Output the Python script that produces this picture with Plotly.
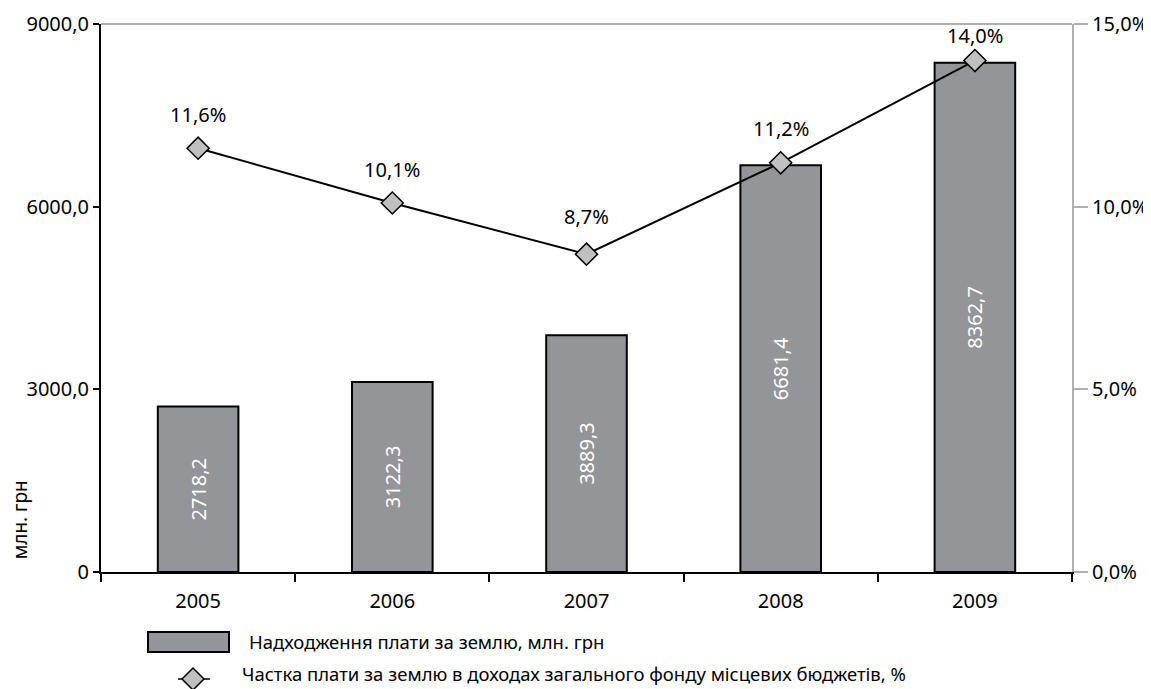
import plotly.graph_objects as go

years = ["2005", "2006", "2007", "2008", "2009"]
payments = [2718.2, 3122.3, 3889.3, 6681.4, 8362.7]   # млн. грн
share = [11.6, 10.1, 8.7, 11.2, 14.0]                # %

left_ticks = [0, 3000, 6000, 9000]
left_ticktext = ["0", "3000,0", "6000,0", "9000,0"]
right_ticks = [0, 5, 10, 15]
right_ticktext = ["0,0%", "5,0%", "10,0%", "15,0%"]

bar_name = "Надходження плати за землю, млн. грн"
line_name = "Частка плати за землю в доходах загального фонду місцевих бюджетів, %"
ytitle = "млн. грн"

FONT = "Noto Sans"
BAR_FILL = "#939598"
MARK_FILL = "#c0c0c0"
GRAY = "#b0b0b0"
LABEL_SHIFTS = [34, 34, 38, 34, 25]   # pixel offsets of the % labels above the markers

def fmt(v):
    return f"{v:.1f}".replace(".", ",")

fig = go.Figure()
fig.add_trace(go.Bar(
    x=years, y=payments, width=0.415,
    marker=dict(color=BAR_FILL, line=dict(color="black", width=2)),
    text=[fmt(v) for v in payments], textposition="inside",
    insidetextanchor="middle", textangle=-90, constraintext="none",
    textfont=dict(color="white", size=20, family=FONT),
    showlegend=False, yaxis="y",
))
fig.add_trace(go.Scatter(
    x=years, y=share, mode="lines+markers", yaxis="y2",
    line=dict(color="black", width=2),
    marker=dict(symbol="diamond", size=17, color=MARK_FILL,
                line=dict(color="black", width=1.5)),
    showlegend=False,
))
for i, s in enumerate(share):
    fig.add_annotation(x=i, y=s, xref="x", yref="y2", text=fmt(s) + "%",
                       showarrow=False, yshift=LABEL_SHIFTS[i],
                       font=dict(size=20, family=FONT, color="black"))

# y-axis title
fig.add_annotation(xref="paper", yref="paper", x=-0.083, y=0.095,
                   xanchor="center", yanchor="middle",
                   text=ytitle, textangle=-90, showarrow=False,
                   font=dict(size=19, family=FONT, color="black"))

# top border
fig.add_shape(type="line", xref="paper", yref="paper", x0=0, x1=1, y0=1, y1=1,
              line=dict(color=GRAY, width=2))

# custom legend
fig.add_shape(type="rect", xref="paper", yref="paper", xsizemode="pixel", ysizemode="pixel",
              xanchor=0, yanchor=0, x0=47, x1=128, y0=-60, y1=-80,
              fillcolor=BAR_FILL, line=dict(color="black", width=2))
fig.add_shape(type="line", xref="paper", yref="paper", xsizemode="pixel", ysizemode="pixel",
              xanchor=0, yanchor=0, x0=77, x1=109, y0=-107, y1=-107,
              line=dict(color="black", width=1.5))
fig.add_shape(type="path", xref="paper", yref="paper", xsizemode="pixel", ysizemode="pixel",
              xanchor=0, yanchor=0,
              path="M 81,-107 L 92,-96 L 103,-107 L 92,-118 Z",
              fillcolor=MARK_FILL, line=dict(color="black", width=1.5))
fig.add_annotation(xref="paper", yref="paper", x=0.1504, y=-0.1277, xanchor="left",
                   yanchor="middle", text=bar_name, showarrow=False,
                   font=dict(size=18.5, family=FONT, color="black"))
fig.add_annotation(xref="paper", yref="paper", x=0.1432, y=-0.1861, xanchor="left",
                   yanchor="middle", text=line_name, showarrow=False,
                   font=dict(size=18.5, family=FONT, color="black"))

# page body has an 8px margin, so the figure is shrunk by 8px and margins compensated
fig.update_layout(
    width=1143, height=681,
    margin=dict(l=93, r=79, t=16, b=117, autoexpand=False),
    paper_bgcolor="white", plot_bgcolor="white",
    font=dict(family=FONT, size=20, color="black"),
    xaxis=dict(
        type="category", range=[-0.5, 4.5], automargin=False,
        showline=True, linecolor="black", linewidth=2,
        ticks="outside", tickson="boundaries", ticklen=8, tickcolor="black", tickwidth=1.5,
        ticklabelstandoff=10,
        showgrid=False, zeroline=False,
        tickfont=dict(size=20, family=FONT),
    ),
    yaxis=dict(
        range=[0, 9000], tickvals=left_ticks, ticktext=left_ticktext, automargin=False,
        showline=True, linecolor="black", linewidth=2,
        ticks="outside", ticklen=6, tickcolor="black", tickwidth=1.5,
        showgrid=False, zeroline=False,
        tickfont=dict(size=20, family=FONT),
    ),
    yaxis2=dict(
        range=[0, 15], tickvals=right_ticks, ticktext=right_ticktext, automargin=False,
        overlaying="y", side="right",
        showline=True, linecolor=GRAY, linewidth=2,
        ticks="outside", ticklen=14, tickcolor=GRAY, tickwidth=1.5,
        showgrid=False, zeroline=False,
        tickfont=dict(size=20, family=FONT),
    ),
)

fig.write_html("out.html")
